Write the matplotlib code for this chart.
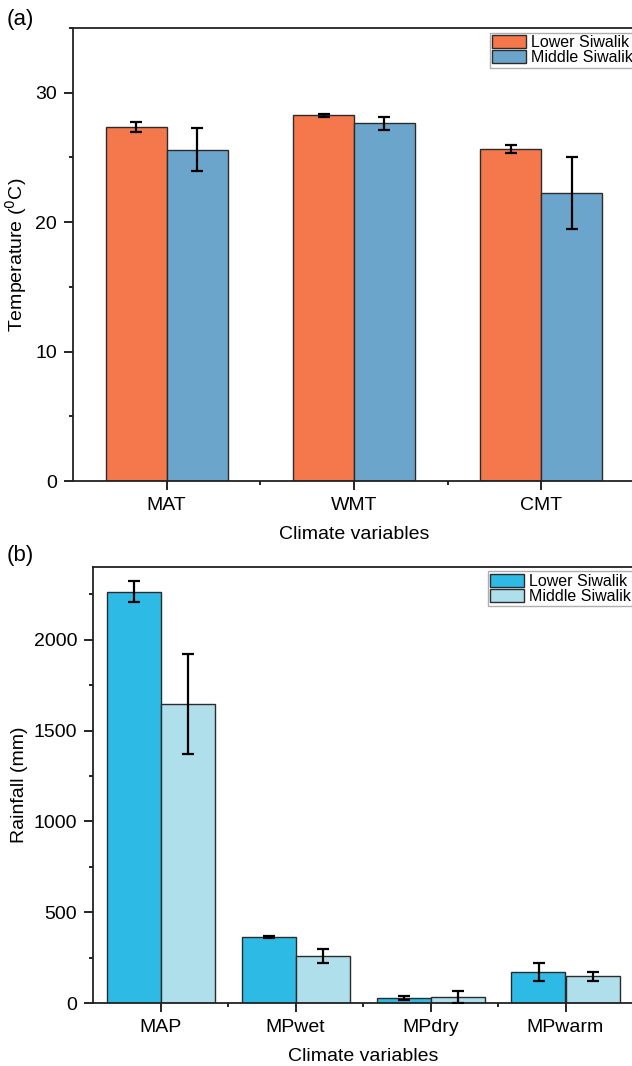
import numpy as np
import matplotlib
matplotlib.use("Agg")
import matplotlib.pyplot as plt
from matplotlib.ticker import MultipleLocator, FixedLocator

plt.rcParams['font.family'] = ['Liberation Sans', 'DejaVu Sans']

# Panel (a) data
temp_cats = ["MAT", "WMT", "CMT"]
temp_lower = [27.35, 28.25, 25.65]
temp_lower_err = [0.35, 0.1, 0.33]
temp_middle = [25.6, 27.65, 22.25]
temp_middle_err = [1.65, 0.5, 2.8]

# Panel (b) data
rain_cats = ["MAP", "MPwet", "MPdry", "MPwarm"]
rain_lower = [2265, 364, 27, 170]
rain_lower_err = [60, 5, 11, 48]
rain_middle = [1647, 258, 35, 148]
rain_middle_err = [275, 37, 33, 25]

series_names = ["Lower Siwalik", "Middle Siwalik"]

W, H = 632, 1066
fig = plt.figure(figsize=(W / 100, H / 100), dpi=100)

def fr(x0, y0, x1, y1):
    return [x0 / W, 1 - y1 / H, (x1 - x0) / W, (y1 - y0) / H]

ax_a = fig.add_axes(fr(73, 28, 635, 481))
ax_b = fig.add_axes(fr(93, 567, 633, 1003))

edge = "#2b2b2b"

def draw(ax, cats, lo, lo_e, mi, mi_e, colors, bw, ylim, major, minor, ylabel,
         ylab_x):
    x = np.arange(len(cats))
    ax.bar(x - bw / 2, lo, bw, color=colors[0], edgecolor=edge, linewidth=1.0,
           label=series_names[0], zorder=2)
    ax.bar(x + bw / 2, mi, bw, color=colors[1], edgecolor=edge, linewidth=1.0,
           label=series_names[1], zorder=2)
    ax.errorbar(x - bw / 2, lo, yerr=lo_e, fmt="none", ecolor="black",
                elinewidth=1.6, capsize=4, capthick=1.6, zorder=3)
    ax.errorbar(x + bw / 2, mi, yerr=mi_e, fmt="none", ecolor="black",
                elinewidth=1.6, capsize=4, capthick=1.6, zorder=3)
    ax.set_xlim(-0.5, len(cats) - 0.5)
    ax.set_ylim(*ylim)
    ax.set_xticks(x)
    ax.set_xticklabels(cats)
    ax.xaxis.set_minor_locator(FixedLocator(np.arange(0.5, len(cats) - 0.5, 1.0)))
    ax.yaxis.set_major_locator(MultipleLocator(major))
    ax.yaxis.set_minor_locator(MultipleLocator(minor))
    ax.tick_params(axis="both", which="major", direction="out", length=6.5,
                   width=1.2, labelsize=14, pad=5)
    ax.tick_params(axis="both", which="minor", direction="out", length=3,
                   width=1.2)
    for s in ax.spines.values():
        s.set_linewidth(1.3)
        s.set_color("#222222")
    ax.set_xlabel("Climate variables", fontsize=14, labelpad=9)
    ax.set_ylabel(ylabel, fontsize=14)
    ax.yaxis.set_label_coords(ylab_x, 0.5)
    leg = ax.legend(loc="upper right", bbox_to_anchor=(1.0, 0.99),
                    fontsize=11.5, frameon=True, fancybox=False,
                    handlelength=2.1, handleheight=0.9, labelspacing=0.0,
                    borderpad=0.15, handletextpad=0.3, borderaxespad=0.0)
    leg.get_frame().set_edgecolor("#9a9a9a")
    leg.get_frame().set_linewidth(1.0)

draw(ax_a, temp_cats, temp_lower, temp_lower_err, temp_middle, temp_middle_err,
     ["#F4784B", "#6CA5CB"], 0.325, (0, 35), 10, 5, "Temperature ($^{0}$C)",
     (29 - 73) / 562)
draw(ax_b, rain_cats, rain_lower, rain_lower_err, rain_middle, rain_middle_err,
     ["#2DBBE6", "#AEDFEB"], 0.4, (0, 2400), 500, 250, "Rainfall (mm)",
     (28 - 93) / 540)

fig.text(7 / W, 1 - 20 / H, "(a)", fontsize=16, va="center", ha="left")
fig.text(7 / W, 1 - 555 / H, "(b)", fontsize=16, va="center", ha="left")

fig.savefig("out.png", dpi=100)
